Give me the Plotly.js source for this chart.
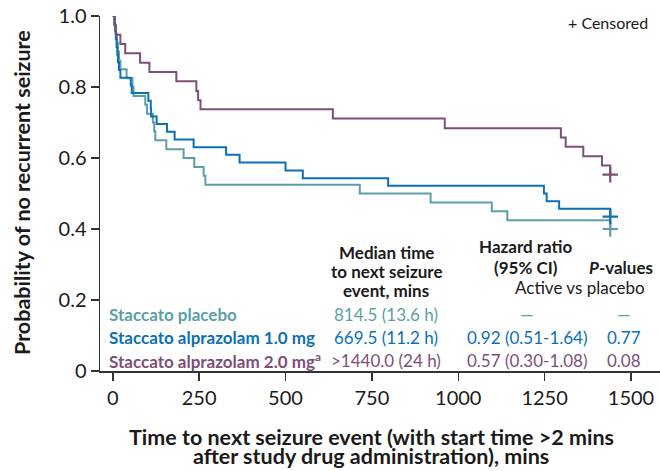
<!DOCTYPE html>
<html>
<head>
<meta charset="utf-8">
<script src="https://cdn.plot.ly/plotly-3.0.1.min.js"></script>
<style>html,body{margin:0;padding:0;background:#fff;}#chart{width:660px;height:471px;}</style>
</head>
<body>
<div id="chart"></div>
<script>
// ---- Data ----
const groupNames = ["Staccato placebo", "Staccato alprazolam 1.0 mg", "Staccato alprazolam 2.0 mg<sup>a</sup>"];
const medianTimes = ["814.5 (13.6 h)", "669.5 (11.2 h)", ">1440.0 (24 h)"];
const hazardRatios = ["—", "0.92 (0.51-1.64)", "0.57 (0.30-1.08)"];
const pValues = ["—", "0.77", "0.08"];

const placeboTime = [0, 4, 8, 12, 15, 18, 22, 40, 57, 60, 94, 99, 116, 120, 123, 155, 205, 236, 263, 268, 715, 920, 1097, 1142, 1440];
const placeboSurv = [1.0, 0.975, 0.95, 0.925, 0.90, 0.875, 0.85, 0.825, 0.80, 0.775, 0.75, 0.725, 0.70, 0.675, 0.65, 0.625, 0.60, 0.575, 0.55, 0.525, 0.50, 0.475, 0.45, 0.425, 0.40];

const alp1Time = [0, 5, 7, 9, 11, 13, 15, 18, 22, 52, 55, 103, 110, 111, 127, 157, 179, 234, 328, 367, 500, 550, 797, 1248, 1256, 1292, 1440];
const alp1Surv = [1.0, 0.978, 0.957, 0.935, 0.913, 0.891, 0.870, 0.848, 0.826, 0.804, 0.783, 0.761, 0.739, 0.717, 0.696, 0.674, 0.652, 0.630, 0.609, 0.587, 0.565, 0.543, 0.522, 0.500, 0.478, 0.457, 0.435];

const alp2Time = [0, 6, 9, 22, 36, 79, 106, 184, 242, 247, 254, 637, 961, 1297, 1311, 1362, 1416, 1440];
const alp2Surv = [1.0, 0.974, 0.947, 0.921, 0.895, 0.868, 0.842, 0.816, 0.789, 0.763, 0.737, 0.711, 0.684, 0.658, 0.632, 0.605, 0.579, 0.553];

const censorTime = [1440, 1440, 1440];
const censorSurv = [0.40, 0.435, 0.553];

const xTicks = [0, 250, 500, 750, 1000, 1250, 1500];
const yTicks = [0, 0.2, 0.4, 0.6, 0.8, 1.0];
const yTickText = ["0", "0.2", "0.4", "0.6", "0.8", "1.0"];

const xTitleLines = ["Time to next seizure event (with start time >2 mins", "after study drug administration), mins"];
const yTitle = "Probability of no recurrent seizure";

// ---- Styles ----
const colors = ["#5c9fa7", "#0b70b6", "#7c4f79"];
const FONT = "Lato, 'Open Sans', sans-serif";
const INK = "#1a1a1a";
const series = [[placeboTime, placeboSurv], [alp1Time, alp1Surv], [alp2Time, alp2Surv]];

const traces = series.map((s, i) => ({
  x: s[0], y: s[1], type: "scatter", mode: "lines",
  line: {shape: "hv", color: colors[i], width: 2},
  hoverinfo: "skip", showlegend: false
}));
censorTime.forEach((t, i) => {
  traces.push({
    x: [t], y: [censorSurv[i]], type: "scatter", mode: "markers",
    marker: {symbol: "cross-thin", size: 11, line: {color: colors[i], width: 2.2}},
    hoverinfo: "skip", showlegend: false
  });
});

// pixel -> paper helpers (plot area: left 100, width 560, top 16, height 355)
const px = v => (v - 100) / 560;
const py = v => (371 - v) / 355;

const annotations = [];
const TS = 17;
const rowY = [314, 337, 360];
const cell = (text, x, y, anchor, color) => annotations.push({xref: "paper", yref: "paper", x: px(x), y: py(y),
  xanchor: anchor, yanchor: "middle", text: text, showarrow: false,
  font: {family: FONT, size: TS, color: color}});
groupNames.forEach((g, i) => {
  cell("<b>" + g + "</b>", 107, rowY[i], "left", colors[i]);
  cell(medianTimes[i], 386, rowY[i], "center", colors[i]);
  cell(hazardRatios[i], 527, rowY[i], "center", colors[i]);
  cell(pValues[i], 624, rowY[i], "center", colors[i]);
});
cell("<b>Median time</b>", 386, 252, "center", INK);
cell("<b>to next seizure</b>", 386, 271, "center", INK);
cell("<b>event, mins</b>", 386, 290, "center", INK);
cell("<b>Hazard ratio</b>", 526, 246, "center", INK);
cell("<b>(95% CI)</b>", 526, 267, "center", INK);
cell("<b><i>P</i>-values</b>", 621, 267, "center", INK);
cell("Active vs placebo", 580, 287, "center", INK);
annotations.push({xref: "paper", yref: "paper", x: px(608), y: py(23), xanchor: "center", yanchor: "middle",
  text: "+ Censored", showarrow: false, font: {family: FONT, size: 16, color: INK}});

// axis titles
xTitleLines.forEach((t, i) => annotations.push({xref: "paper", yref: "paper", x: px(371), y: py(437 + 19.5 * i),
  xanchor: "center", yanchor: "middle", text: "<b>" + t + "</b>", showarrow: false, borderpad: 0,
  font: {family: FONT, size: 21.5, color: INK}}));
annotations.push({xref: "paper", yref: "paper", x: px(22), y: py(193), xanchor: "center", yanchor: "middle",
  textangle: -90, text: "<b>" + yTitle + "</b>", showarrow: false,
  font: {family: FONT, size: 21.5, color: INK}});

const layout = {
  width: 660, height: 471,
  margin: {l: 100, r: 0, t: 16, b: 100},
  paper_bgcolor: "#fff", plot_bgcolor: "#fff",
  font: {family: FONT, color: INK},
  showlegend: false,
  xaxis: {
    range: [-37, 1584], tickvals: xTicks, ticktext: xTicks.map(String),
    showline: true, linecolor: "#333", linewidth: 1.5, zeroline: false, showgrid: false,
    ticks: "outside", ticklen: 8, tickwidth: 1.5, tickcolor: "#333",
    tickfont: {family: FONT, size: 20, color: INK}
  },
  yaxis: {
    range: [0, 1], tickvals: yTicks, ticktext: yTickText,
    showline: true, linecolor: "#333", linewidth: 1.5, zeroline: false, showgrid: false,
    ticks: "outside", ticklen: 8, tickwidth: 1.5, tickcolor: "#333",
    tickfont: {family: FONT, size: 20, color: INK}
  },
  annotations: annotations
};

Plotly.newPlot("chart", traces, layout, {displayModeBar: false, staticPlot: true});
</script>
</body>
</html>
